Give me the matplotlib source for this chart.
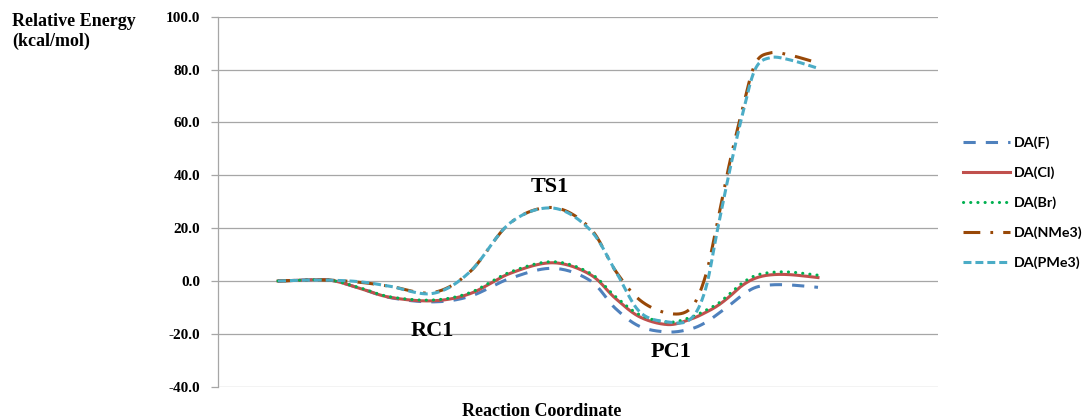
import numpy as np
import matplotlib
matplotlib.use("Agg")
import matplotlib.pyplot as plt
from matplotlib.ticker import FormatStrFormatter

# reaction coordinate (arbitrary units) and relative energies
rc = [1.00, 1.37, 1.87, 2.37, 2.87, 3.58, 4.20, 4.87, 5.58, 6.20, 6.62,
      7.03, 7.50, 7.87, 8.12, 8.33, 8.53, 8.73, 8.95, 9.20, 9.53, 10.00]

e_f = [0, 0.3, 0.3, -2.8, -6.3, -7.9, -5.8, 1.0, 4.8, 0.2, -10.3,
       -17.2, -19.3, -18.2, -15.8, -12.5, -9.1, -5.5, -2.5, -1.5, -1.5, -2.4]
e_cl = [0, 0.3, 0.3, -2.8, -6.2, -7.5, -4.8, 2.9, 6.9, 2.5, -6.5,
        -13.6, -16.5, -14.5, -12.0, -9.3, -5.8, -1.8, 1.0, 2.3, 2.4, 1.3]
e_br = [0, 0.3, 0.3, -2.6, -6.0, -7.2, -4.4, 3.4, 7.3, 3.0, -5.8,
        -12.8, -15.6, -13.8, -11.2, -8.6, -4.8, -0.9, 2.0, 3.2, 3.4, 2.2]
e_nme3 = [0, 0.3, 0.3, -0.5, -2.0, -4.4, 3.5, 22.0, 27.8, 20.0, 4.0,
          -7.2, -12.2, -10.5, 1.5, 23.0, 45.0, 64.0, 82.0, 86.3, 85.5, 82.5]
e_pme3 = [0, 0.3, 0.3, -0.3, -2.0, -4.7, 3.5, 22.0, 27.6, 19.4, 4.0,
          -11.7, -15.5, -14.5, -3.5, 20.0, 42.0, 62.0, 80.0, 84.5, 83.7, 80.5]

labels = ["DA(F)", "DA(Cl)", "DA(Br)", "DA(NMe3)", "DA(PMe3)"]
colors = ["#4F81BD", "#C0504D", "#00B050", "#984807", "#4BACC6"]
styles = [(0, (4, 3.3)), "-", (0, (0.05, 2.3)), (0, (5.5, 3.3, 0.9, 3.3)), (0, (2.6, 1.3))]

SERIF = "Liberation Serif"


def smooth(x, y, n=30):
    # Excel-like smoothed line: cubic bezier with control points at 1/6 of neighbour spans
    p = np.column_stack([x, y]).astype(float)
    q = np.vstack([p[0], p, p[-1]])
    t = np.linspace(0, 1, n)[:, None]
    out = []
    for i in range(len(p) - 1):
        p0, p1, p2, p3 = q[i], q[i + 1], q[i + 2], q[i + 3]
        c1 = p1 + (p2 - p0) / 6
        c2 = p2 - (p3 - p1) / 6
        seg = (1 - t) ** 3 * p1 + 3 * (1 - t) ** 2 * t * c1 + 3 * (1 - t) * t ** 2 * c2 + t ** 3 * p2
        out.append(seg if i == 0 else seg[1:])
    pts = np.vstack(out)
    return pts[:, 0], pts[:, 1]


fig = plt.figure(figsize=(10.82, 4.2), dpi=100)
ax = fig.add_axes([0.2015, 0.0793, 0.6654, 0.8808])

for ys, lab, col, ls in zip([e_f, e_cl, e_br, e_nme3, e_pme3], labels, colors, styles):
    sx, sy = smooth(rc, ys)
    line, = ax.plot(sx, sy, color=col, lw=2.2, ls=ls, label=lab)
    if lab == "DA(Br)":
        line.set_dash_capstyle("round")

ax.set_xlim(0, 12)
ax.set_ylim(-40, 100)
ax.set_yticks(np.arange(-40, 101, 20))
ax.yaxis.set_major_formatter(FormatStrFormatter("%.1f"))
ax.set_xticks([])
ax.yaxis.grid(True, color="#A6A6A6", lw=0.9)
ax.set_axisbelow(True)
for s in ["top", "right", "bottom"]:
    ax.spines[s].set_visible(False)
ax.spines["left"].set_color("#A6A6A6")
ax.spines["left"].set_linewidth(0.9)
ax.tick_params(axis="y", direction="out", length=5, color="#A6A6A6", width=0.9, pad=8)
for t in ax.get_yticklabels():
    t.set_fontfamily(SERIF)
    t.set_fontweight("bold")
    t.set_fontsize(11)

# state labels
ax.text(3.57, -18.8, "RC1", family=SERIF, weight="bold", fontsize=16, ha="center", va="center")
ax.text(5.53, 35.5, "TS1", family=SERIF, weight="bold", fontsize=16, ha="center", va="center")
ax.text(7.55, -27.0, "PC1", family=SERIF, weight="bold", fontsize=16, ha="center", va="center")

fig.text(12 / 1082, 1 - 13 / 420, "Relative Energy\n(kcal/mol)", family=SERIF, weight="bold",
         fontsize=13, ha="left", va="top", linespacing=1.2)
fig.text(542 / 1082, 1 - 411 / 420, "Reaction Coordinate", family=SERIF, weight="bold",
         fontsize=13, ha="center", va="center")

leg = fig.legend(loc="upper left", bbox_to_anchor=(963 / 1082, 1 - 136 / 420), frameon=False,
                 borderpad=0, borderaxespad=0, handlelength=3.3, handletextpad=0.25,
                 labelspacing=1.22, prop={"family": "Lato", "weight": "bold", "size": 10.3})

fig.savefig("out.png", dpi=100)
